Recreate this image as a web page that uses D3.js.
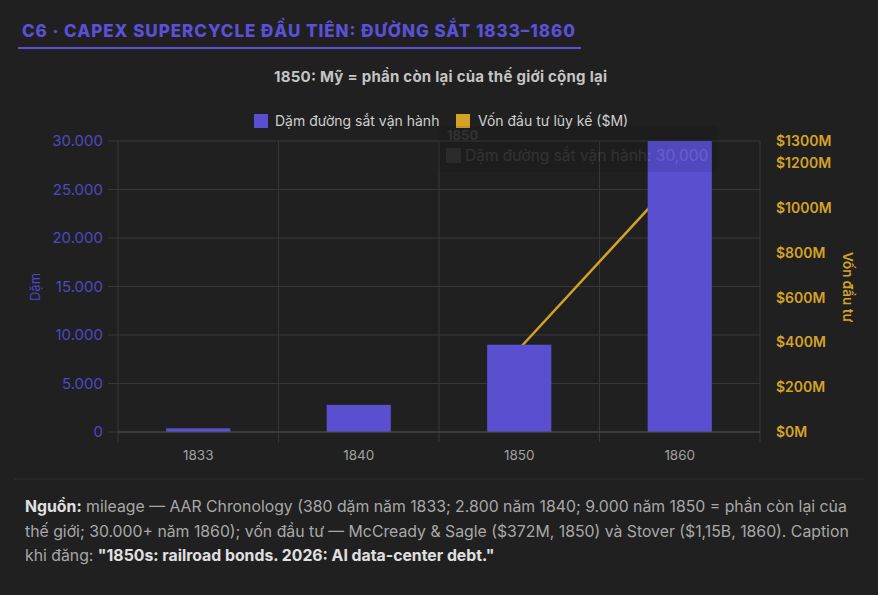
<!DOCTYPE html>
<html>
<head>
<meta charset="utf-8">
<script src="https://cdn.jsdelivr.net/npm/d3@7"></script>
<style>
  html, body { margin: 0; padding: 0; background: #202020; }
  svg { display: block; font-family: Inter, "Noto Sans", sans-serif; }
</style>
</head>
<body>
<div id="wrapper"></div>
<script>
const years = ["1833", "1840", "1850", "1860"];
const miles = [380, 2800, 9000, 30000];
const capital = [null, null, 372, 1150];
const leftTicks = [0, 5000, 10000, 15000, 20000, 25000, 30000];
const rightTicks = [0, 200, 400, 600, 800, 1000, 1200, 1300];
const footerLines = [
  [["Nguồn:", true], [" mileage — AAR Chronology (380 dặm năm 1833; 2.800 năm 1840; 9.000 năm 1850 = phần còn lại của", false]],
  [["thế giới; 30.000+ năm 1860); vốn đầu tư — McCready & Sagle ($372M, 1850) và Stover ($1,15B, 1860). Caption", false]],
  [["khi đăng: ", false], ["\"1850s: railroad bonds. 2026: AI data-center debt.\"", true]]
];

function drawChart() {
  const dimensions = {
    width: 878,
    height: 595,
    margin: { top: 141, right: 118, bottom: 163, left: 118 }
  };
  dimensions.boundedWidth = dimensions.width - dimensions.margin.left - dimensions.margin.right;
  dimensions.boundedHeight = dimensions.height - dimensions.margin.top - dimensions.margin.bottom;

  const purple = "#5a4fcf";
  const gold = "#d4a326";
  const grid = "#383838";

  const svg = d3.select("#wrapper").append("svg")
    .attr("width", dimensions.width)
    .attr("height", dimensions.height);

  svg.append("rect").attr("width", dimensions.width).attr("height", dimensions.height).attr("fill", "#202020");

  // title
  svg.append("text")
    .attr("x", 22).attr("y", 37)
    .attr("fill", "#5b50d6")
    .attr("font-size", 17).attr("font-weight", 800)
    .attr("textLength", 553).attr("lengthAdjust", "spacing")
    .text("C6 · CAPEX SUPERCYCLE ĐẦU TIÊN: ĐƯỜNG SẮT 1833–1860");
  svg.append("rect").attr("x", 18).attr("y", 47).attr("width", 563).attr("height", 2).attr("fill", "#5b50d6");

  svg.append("text")
    .attr("x", 274).attr("y", 82)
    .attr("fill", "#c4c4c4")
    .attr("font-size", 15).attr("font-weight", 700)
    .attr("textLength", 333).attr("lengthAdjust", "spacing")
    .text("1850: Mỹ = phần còn lại của thế giới cộng lại");

  // legend
  const legend = svg.append("g").attr("font-size", 14).attr("fill", "#cfcfcf");
  legend.append("rect").attr("x", 254).attr("y", 114).attr("width", 14).attr("height", 14).attr("fill", purple);
  legend.append("text").attr("x", 275).attr("y", 126).text("Dặm đường sắt vận hành");
  legend.append("rect").attr("x", 456).attr("y", 114).attr("width", 14).attr("height", 14).attr("fill", gold);
  legend.append("text").attr("x", 478).attr("y", 126).text("Vốn đầu tư lũy kế ($M)");

  const bounds = svg.append("g")
    .attr("transform", `translate(${dimensions.margin.left}, ${dimensions.margin.top})`);

  const xScale = d3.scaleBand().domain(years).range([0, dimensions.boundedWidth]).padding(0);
  const yScale = d3.scaleLinear().domain([0, 30000]).range([dimensions.boundedHeight, 0]);
  const y2Scale = d3.scaleLinear().domain([0, 1300]).range([dimensions.boundedHeight, 0]);

  // grid
  bounds.append("g").selectAll("line").data(leftTicks).join("line")
    .attr("x1", -10).attr("x2", dimensions.boundedWidth)
    .attr("y1", d => yScale(d)).attr("y2", d => yScale(d))
    .attr("stroke", grid);
  const xBounds = years.map(d => xScale(d)).concat([dimensions.boundedWidth]);
  bounds.append("g").selectAll("line").data(xBounds).join("line")
    .attr("x1", d => d).attr("x2", d => d)
    .attr("y1", 0).attr("y2", dimensions.boundedHeight + 10)
    .attr("stroke", grid);

  // left axis labels
  const fmt = d3.formatLocale({ decimal: ",", thousands: ".", grouping: [3], currency: ["", ""] }).format(",");
  bounds.append("g").selectAll("text").data(leftTicks).join("text")
    .attr("x", -15).attr("y", d => yScale(d)).attr("dy", "0.35em")
    .attr("text-anchor", "end").attr("font-size", 15).attr("fill", "#5247c4")
    .text(d => fmt(d));

  // right axis labels
  bounds.append("g").selectAll("text").data(rightTicks).join("text")
    .attr("x", dimensions.boundedWidth + 16).attr("y", d => y2Scale(d)).attr("dy", "0.35em")
    .attr("font-size", 14).attr("font-weight", 600).attr("fill", gold)
    .text(d => `$${d}M`);

  // x labels
  bounds.append("g").selectAll("text").data(years).join("text")
    .attr("x", d => xScale(d) + xScale.bandwidth() / 2)
    .attr("y", dimensions.boundedHeight + 28)
    .attr("text-anchor", "middle").attr("font-size", 13.5).attr("fill", "#a0a0a0")
    .text(d => d);

  // axis titles
  svg.append("text")
    .attr("transform", "translate(40, 287) rotate(-90)")
    .attr("text-anchor", "middle").attr("font-size", 13).attr("fill", "#5247c4")
    .text("Dặm");
  svg.append("text")
    .attr("transform", "translate(843, 287) rotate(90)")
    .attr("text-anchor", "middle").attr("font-size", 13.5).attr("font-weight", 600).attr("fill", gold)
    .text("Vốn đầu tư");

  // line (drawn under bars)
  const lineData = years.map((d, i) => ({ year: d, value: capital[i] }));
  const lineGenerator = d3.line()
    .defined(d => d.value != null)
    .x(d => xScale(d.year) + xScale.bandwidth() / 2)
    .y(d => y2Scale(d.value));
  bounds.append("path")
    .attr("d", lineGenerator(lineData))
    .attr("fill", "none").attr("stroke", gold).attr("stroke-width", 2.5);
  bounds.append("g").selectAll("circle").data(lineData.filter(d => d.value != null)).join("circle")
    .attr("cx", d => xScale(d.year) + xScale.bandwidth() / 2)
    .attr("cy", d => y2Scale(d.value))
    .attr("r", 3.5).attr("fill", gold);

  // bars
  const barWidth = xScale.bandwidth() * 0.4;
  bounds.append("g").selectAll("rect").data(years).join("rect")
    .attr("x", d => xScale(d) + (xScale.bandwidth() - barWidth) / 2)
    .attr("width", barWidth)
    .attr("y", (d, i) => yScale(miles[i]))
    .attr("height", (d, i) => dimensions.boundedHeight - yScale(miles[i]))
    .attr("fill", purple);

  // faded tooltip ghost
  const ghost = svg.append("g").attr("opacity", 0.08);
  ghost.append("rect").attr("x", 438).attr("y", 126).attr("width", 280).attr("height", 46).attr("rx", 5).attr("fill", "#000");
  ghost.append("text").attr("x", 447).attr("y", 140).attr("font-size", 13).attr("font-weight", 700).attr("fill", "#fff").text("1850");
  ghost.append("rect").attr("x", 446).attr("y", 148).attr("width", 15).attr("height", 15).attr("fill", "#aaa");
  ghost.append("text").attr("x", 465).attr("y", 161).attr("font-size", 15.5).attr("fill", "#fff")
    .text("Dặm đường sắt vận hành: " + d3.format(",")(miles[3]));

  // axis lines
  bounds.append("line").attr("x1", 0).attr("x2", dimensions.boundedWidth)
    .attr("y1", dimensions.boundedHeight).attr("y2", dimensions.boundedHeight).attr("stroke", "#4a4a4a");

  // separator + footer
  svg.append("line").attr("x1", 14).attr("x2", 864).attr("y1", 479).attr("y2", 479).attr("stroke", "#2e2e2e");
  const footer = svg.append("g").attr("font-size", 15.8).attr("fill", "#a8a8a8");
  footerLines.forEach((parts, i) => {
    const t = footer.append("text").attr("x", 25).attr("y", 512 + i * 24.5);
    parts.forEach(p => {
      t.append("tspan").attr("font-weight", p[1] ? 700 : 400).attr("fill", p[1] ? "#e0e0e0" : null).text(p[0]);
    });
  });
}

drawChart();
</script>
</body>
</html>
